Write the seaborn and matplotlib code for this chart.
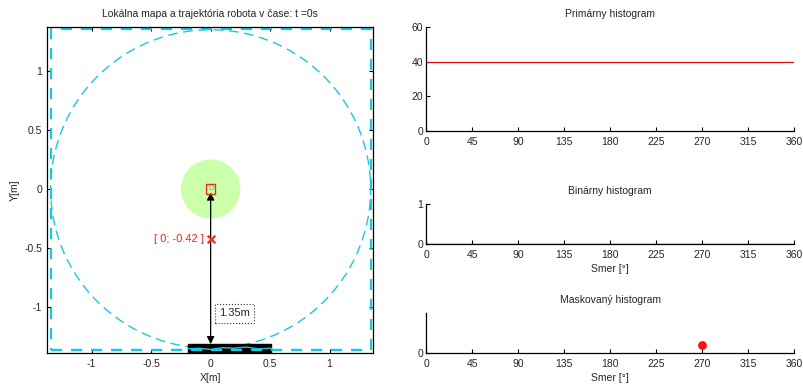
import numpy as np
import pandas as pd
import matplotlib
matplotlib.use("Agg")
import matplotlib.pyplot as plt
from matplotlib.patches import Circle, Rectangle
import seaborn as sns

# ---------------- data ----------------
map_title = "Lokálna mapa a trajektória robota v čase: t =0s"
map_xticks = [-1, -0.5, 0, 0.5, 1]
map_yticks = [-1, -0.5, 0, 0.5, 1]
robot_xy = [0.0, 0.0]
goal_xy = [0.0, -0.42]
goal_label = "[ 0; -0.42 ]"
dist_label = "1.35m"
obstacle_x = [-0.19, 0.51]
obstacle_y = [-1.385, -1.31]
sensor_radius = 1.345
robot_radius = 0.25
window_x = [-1.345, 1.345]
window_y = [-1.36, 1.35]
wave_x = [-0.19, -0.1, 0.0, 0.1, 0.2, 0.3, 0.4, 0.51]
wave_y = [-1.35, -1.345, -1.355, -1.34, -1.345, -1.335, -1.35, -1.345]

hist_xticks = [0, 45, 90, 135, 180, 225, 270, 315, 360]
prim_angles = [0, 360]
prim_values = [40, 40]
bin_angles = [0, 360]
bin_values = [0, 0]
mask_angles = [270]
mask_values = [0.2]

# ---------------- style ----------------
sns.set_style("ticks")
plt.rcParams["font.family"] = ["Liberation Sans", "DejaVu Sans"]
plt.rcParams["font.size"] = 7.5
txt = "#262626"
cyan = "#18c8e0"

fig = plt.figure(figsize=(8.04, 3.86), dpi=100)

# ---------------- left map ----------------
ax = fig.add_axes([0.0585, 0.0855, 0.4055, 0.8446])
ax.set_xlim(-1.375, 1.365)
ax.set_ylim(-1.385, 1.368)

ax.add_patch(Circle((robot_xy[0], robot_xy[1]), robot_radius, facecolor="#ccffaa",
                    edgecolor="none", zorder=1))
ax.add_patch(Circle((robot_xy[0], robot_xy[1]), sensor_radius, fill=False,
                    edgecolor=cyan, lw=1.0, ls=(0, (7, 4)), zorder=2))
sq = pd.DataFrame({"x": [window_x[0], window_x[1], window_x[1], window_x[0], window_x[0]],
                   "y": [window_y[0], window_y[0], window_y[1], window_y[1], window_y[0]]})
ax.plot(sq["x"], sq["y"], color=cyan, lw=1.6, ls=(0, (5, 4)), zorder=2)

ax.add_patch(Rectangle((obstacle_x[0], obstacle_y[0]), obstacle_x[1] - obstacle_x[0],
                       obstacle_y[1] - obstacle_y[0], facecolor="black",
                       edgecolor="black", zorder=3))
wave = pd.DataFrame({"x": wave_x, "y": wave_y})
sns.lineplot(data=wave, x="x", y="y", ax=ax, color=cyan, lw=1.0, zorder=4,
             estimator=None, sort=False)
ax.plot(window_x, [window_y[0]] * 2, color=cyan, lw=1.6, ls=(0, (5, 4)), zorder=4)

# robot marker
ax.add_patch(Rectangle((robot_xy[0] - 0.04, robot_xy[1] - 0.04), 0.08, 0.08,
                       fill=False, edgecolor="#e03020", lw=1.0, zorder=6))
ax.text(robot_xy[0], robot_xy[1], "D", color="#f08020", fontsize=5.5,
        ha="center", va="center", zorder=6)

# distance arrow
ax.annotate("", xy=(robot_xy[0], robot_xy[1] - 0.03), xytext=(0, obstacle_y[1]),
            arrowprops=dict(arrowstyle="<|-|>", color="black", lw=0.9,
                            mutation_scale=11, shrinkA=0, shrinkB=0), zorder=5)

# goal
gdf = pd.DataFrame({"x": [goal_xy[0]], "y": [goal_xy[1]]})
sns.scatterplot(data=gdf, x="x", y="y", ax=ax, marker="x", color="#ff2020",
                s=30, linewidth=1.6, zorder=7)
ax.text(goal_xy[0] - 0.06, goal_xy[1], goal_label, color="#ff2020", fontsize=8,
        ha="right", va="center")

ax.text(0.2, -1.05, dist_label, fontsize=8, color=txt, ha="center", va="center",
        bbox=dict(boxstyle="square,pad=0.4", facecolor="white", edgecolor="#333333",
                  ls=":", lw=0.8))

ax.set_xticks(map_xticks)
ax.set_yticks(map_yticks)
ax.set_xticklabels(["-1", "-0.5", "0", "0.5", "1"])
ax.set_yticklabels(["-1", "-0.5", "0", "0.5", "1"])
ax.tick_params(direction="in", length=3, colors="black", labelcolor=txt,
               top=True, right=True, labelsize=7.5)
ax.tick_params(axis="x", pad=4)
for s in ax.spines.values():
    s.set_visible(True)
    s.set_color("black")
    s.set_linewidth(0.9)
ax.set_xlabel("X[m]", color=txt, labelpad=3)
ax.set_ylabel("Y[m]", color=txt, labelpad=3)
ax.set_title(map_title, color=txt, fontsize=7.5, pad=7)

# ---------------- histograms ----------------
def style_hist(h, title, xlabel=None):
    h.set_xlim(0, 360)
    h.set_xticks(hist_xticks)
    h.tick_params(direction="in", length=3, colors="black", labelcolor=txt,
                  labelsize=7.5, pad=2)
    h.tick_params(axis="x", pad=4.5)
    sns.despine(ax=h)
    for s in ("left", "bottom"):
        h.spines[s].set_color("black")
        h.spines[s].set_linewidth(0.9)
    h.set_title(title, color=txt, fontsize=7.5, pad=7)
    h.set_xlabel(xlabel if xlabel else "", color=txt, labelpad=2.5)
    h.set_ylabel("")

h1 = fig.add_axes([0.530, 0.6606, 0.4577, 0.2694])
sns.lineplot(x=prim_angles, y=prim_values, ax=h1, color="#e81010", lw=0.9)
h1.set_ylim(0, 60)
h1.set_yticks([0, 20, 40, 60])
style_hist(h1, "Primárny histogram")

h2 = fig.add_axes([0.530, 0.368, 0.4577, 0.1036])
sns.lineplot(x=bin_angles, y=bin_values, ax=h2, color="black", lw=0.9)
h2.set_ylim(0, 1)
h2.set_yticks([0, 1])
style_hist(h2, "Binárny histogram", "Smer [°]")

h3 = fig.add_axes([0.530, 0.0855, 0.4577, 0.1036])
sns.scatterplot(x=mask_angles, y=mask_values, ax=h3, color="#ff1010", s=34,
                edgecolor="#ff1010", zorder=5, clip_on=False)
h3.set_ylim(0, 1)
h3.set_yticks([0])
style_hist(h3, "Maskovaný histogram", "Smer [°]")

fig.savefig("out.png", dpi=100)
